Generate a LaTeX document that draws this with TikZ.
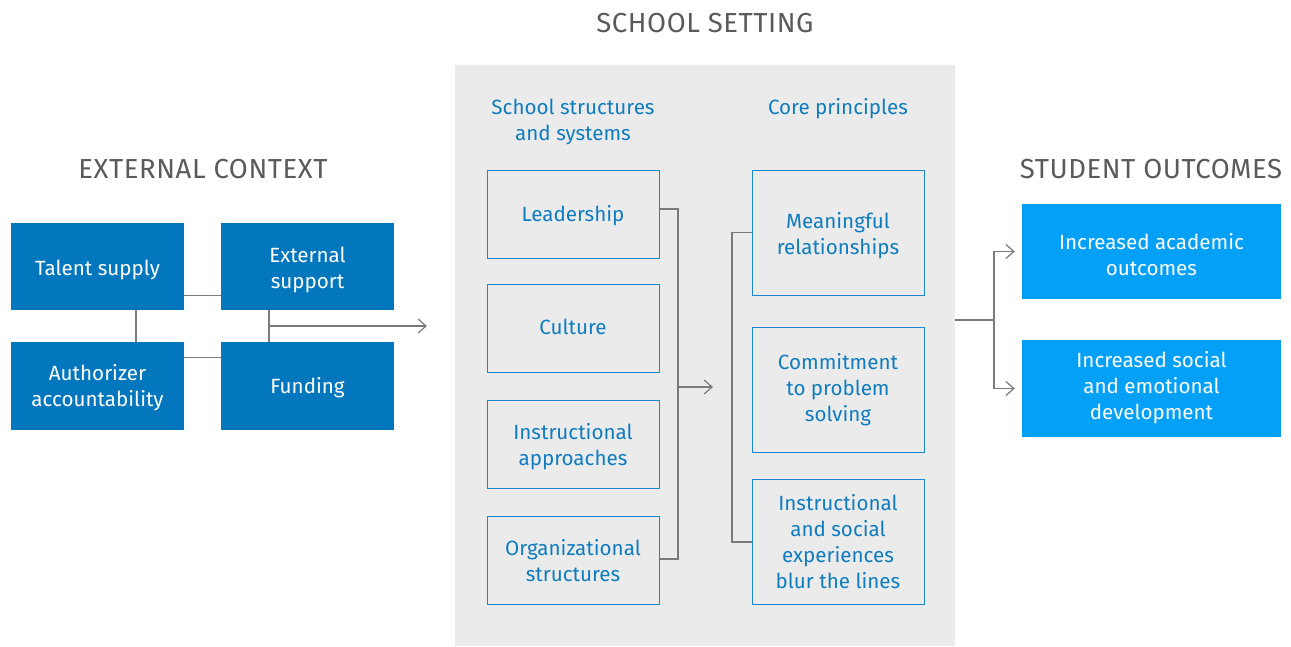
\documentclass[tikz,border=0pt]{standalone}
\usepackage{fontspec}
\setmainfont{Fira Sans}
\newfontfamily\headfont{Fira Sans}[LetterSpace=2]
\usetikzlibrary{arrows.meta}
\definecolor{darkblue}{HTML}{0277BD}
\definecolor{brightblue}{HTML}{03A0F8}
\definecolor{panelgray}{HTML}{EBEBEB}
\definecolor{midblue}{HTML}{1A86CE}
\definecolor{textblue}{HTML}{0F7CC0}
\definecolor{linegray}{HTML}{7A7A7A}
\definecolor{headgray}{HTML}{5A5A5A}
\tikzset{
  bodyfont/.style={font=\fontsize{20.6}{26}\selectfont},
  wlbl/.style={text=white, align=center, inner sep=0pt, yshift=-3.5pt, bodyfont},
  blbl/.style={text=textblue, align=center, inner sep=0pt, yshift=-3.5pt, bodyfont},
  extbox/.style={fill=darkblue, minimum width=173pt, minimum height=87pt, inner sep=0pt},
  midbox/.style={draw=midblue, line width=1pt, minimum width=172pt, inner sep=0pt},
  outbox/.style={fill=brightblue, minimum width=259pt, inner sep=0pt},
  heading/.style={text=headgray, font=\headfont\fontsize{27.5}{32}\selectfont, inner sep=0pt},
  subhead/.style={text=textblue, align=center, inner sep=0pt, bodyfont},
  conn/.style={draw=linegray, line width=1.2pt},
  arr/.style={conn, -{Straight Barb[length=8pt,width=14pt,line width=1.2pt]}}
}
\begin{document}
\begin{tikzpicture}[x=1pt,y=-1pt]
\useasboundingbox (0,0) rectangle (1291,646);
% titles
\node[heading] (tschool) at (705,23) {SCHOOL SETTING};
\node[heading] (text) at (203,169) {EXTERNAL CONTEXT};
\node[heading] (tout) at (1151,169) {STUDENT OUTCOMES};
% panel
\node[fill=panelgray, minimum width=500pt, minimum height=581pt, inner sep=0pt] (panel) at (705,355.5) {};
% external boxes
\node[extbox, label={[wlbl]center:Talent supply}] (talent) at (97.5,266.5) {};
\node[extbox, label={[wlbl]center:External\\support}] (ext) at (307.5,266.5) {};
\node[extbox, minimum height=88pt, label={[wlbl, yshift=2pt]center:Authorizer\\accountability}] (auth) at (97.5,386) {};
\node[extbox, minimum height=88pt, label={[wlbl, yshift=2pt]center:Funding}] (fund) at (307.5,386) {};
\draw[conn] ([yshift=15pt]talent.south east) -- ([yshift=15pt]ext.south west);
\draw[conn] ([xshift=38.5pt]talent.south) -- ([xshift=38.5pt]auth.north);
\draw[conn] ([yshift=-16pt]auth.north east) -- ([yshift=-16pt]fund.north west);
\draw[conn] ([xshift=-38.5pt]ext.south) -- ([xshift=-38.5pt]fund.north);
\coordinate (ea) at (269,326);
\coordinate (etip) at (427,326);
\draw[arr] (ea) -- (etip);
% panel headings
\node[subhead] (hss) at (573,122) {School structures\\and systems};
\node[subhead] (hcp) at (838,109) {Core principles};
% left column
\node[midbox, minimum height=88pt, label={[blbl, yshift=2pt]center:Leadership}] (lead) at (573,214) {};
\node[midbox, minimum height=88pt, label={[blbl, yshift=5pt]center:Culture}] (cult) at (573,328) {};
\node[midbox, minimum height=88pt, label={[blbl, yshift=1pt]center:Instructional\\approaches}] (instr) at (573,444) {};
\node[midbox, minimum height=88pt, label={[blbl, yshift=3pt]center:Organizational\\structures}] (org) at (573,560) {};
% right column
\node[midbox, minimum height=125pt, label={[blbl]center:Meaningful\\relationships}] (mean) at (838,232.5) {};
\node[midbox, minimum height=125pt, label={[blbl, yshift=3pt]center:Commitment\\to problem\\solving}] (commit) at (838,389.5) {};
\node[midbox, minimum height=125pt, label={[blbl, yshift=3.5pt]center:Instructional\\and social\\experiences\\blur the lines}] (blur) at (838,542) {};
% brackets
\coordinate (bx) at (678,387);
\coordinate (btip) at (713,387);
\draw[conn] ([yshift=5pt]lead.east) -| (bx);
\draw[conn] ([yshift=1pt]org.east) -| (bx);
\draw[arr] (bx) -- (btip);
\coordinate (cx) at (732,387);
\draw[conn] (mean.west) -| (cx) |- (blur.west);
% outcomes
\node[outbox, minimum height=95pt, label={[wlbl]center:Increased academic\\outcomes}] (out1) at (1151.5,251.5) {};
\node[outbox, minimum height=97pt, label={[wlbl, yshift=4pt]center:Increased social\\and emotional\\development}] (out2) at (1151.5,388.5) {};
\coordinate (rx) at (994,320);
\draw[conn] ([yshift=35.5pt]panel.east) -- (rx);
\draw[arr, shorten >=7pt] (rx) |- (out1.west);
\draw[arr, shorten >=7pt] (rx) |- (out2.west);
\end{tikzpicture}
\end{document}
